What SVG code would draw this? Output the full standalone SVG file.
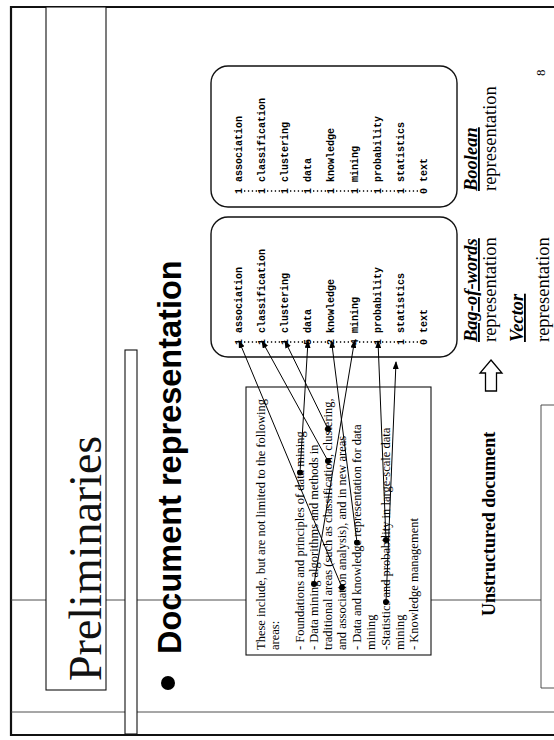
<svg xmlns="http://www.w3.org/2000/svg" width="554" height="740" viewBox="0 0 554 740">
  <style>
    .thin { fill: none; stroke: #3a3a3a; stroke-width: 0.9; }
    .box { fill: #fff; stroke: #111; stroke-width: 1.1; }
    .rbox { fill: #fff; stroke: #111; stroke-width: 1.4; }
    .title { font-family: "Liberation Serif", "Times New Roman", serif; font-size: 46px; fill: #111; }
    .head { font-family: "Liberation Sans", Arial, sans-serif; font-weight: bold; font-size: 32.5px; fill: #000; }
    .body { font-family: "Liberation Serif", "Times New Roman", serif; font-size: 12.5px; fill: #000; }
    .term { font-family: "Liberation Mono", "Courier New", monospace; font-weight: bold; font-size: 10px; fill: #000; }
    .lbl { font-family: "Liberation Serif", "Times New Roman", serif; font-size: 18.5px; fill: #000; }
    .em { font-weight: bold; font-style: italic; text-decoration: underline; }
    .sub { font-family: "Liberation Serif", "Times New Roman", serif; font-weight: bold; font-size: 18px; fill: #000; }
    .link { fill: none; stroke: #000; stroke-width: 1; marker-start: url(#dot); marker-end: url(#tip); }
    .lead { fill: none; stroke: #000; stroke-width: 1.3; stroke-dasharray: 1.3 2.6; }
  </style>
  <defs>
    <marker id="tip" viewBox="0 0 8 6" refX="7" refY="3" markerWidth="8" markerHeight="6" markerUnits="userSpaceOnUse" orient="auto">
      <path d="M0,0 L8,3 L0,6 Z" fill="#000"/>
    </marker>
    <marker id="dot" viewBox="-3 -3 6 6" refX="0" refY="0" markerWidth="6" markerHeight="6" markerUnits="userSpaceOnUse">
      <circle r="3" fill="#000"/>
    </marker>
  </defs>

  <rect width="554" height="740" fill="#fff"/>

  <!-- slide frame and layout guides (slide is turned a quarter turn) -->
  <g id="frame">
    <path d="M560,7 L11,7 L11,735 L560,735" fill="none" stroke="#111" stroke-width="2.2"/>
    <path class="thin" d="M11,600 H46 M106,600 H125 M137,600 H246 M431,600 H541"/>
    <path class="thin" d="M11,712 H125 M137,712 H554"/>
    <path class="thin" d="M560,405 H541 V688 H560"/>
  </g>

  <g id="title">
    <rect class="box" x="46" y="7" width="60" height="683"/>
    <text class="title" transform="translate(101,681) rotate(-90)">Preliminaries</text>
  </g>

  <rect id="bar" class="box" x="125" y="350" width="12" height="384"/>

  <g id="heading">
    <circle cx="168" cy="683" r="7" fill="#000"/>
    <text class="head" transform="translate(181,654) rotate(-90)">Document representation</text>
  </g>

  <!-- source document excerpt -->
  <g id="document">
    <rect class="box" x="246" y="387" width="185" height="268"/>
    <text class="body" transform="translate(264.5,650) rotate(-90)">These include, but are not limited to the following</text>
    <text class="body" transform="translate(278.5,650) rotate(-90)">areas:</text>
    <text class="body" transform="translate(303.5,650) rotate(-90)">- Foundations and principles of data mining</text>
    <text class="body" transform="translate(317.5,650) rotate(-90)">- Data mining algorithms and methods in</text>
    <text class="body" transform="translate(331.5,650) rotate(-90)">traditional areas (such as classification, clustering,</text>
    <text class="body" transform="translate(345.5,650) rotate(-90)">and association analysis), and in new areas</text>
    <text class="body" transform="translate(360.5,650) rotate(-90)">- Data and knowledge representation for data</text>
    <text class="body" transform="translate(374.5,650) rotate(-90)">mining</text>
    <text class="body" transform="translate(389.5,650) rotate(-90)">-Statistics and probability in large-scale data</text>
    <text class="body" transform="translate(403.5,650) rotate(-90)">mining</text>
    <text class="body" transform="translate(418,650) rotate(-90)">- Knowledge management</text>
    <text class="sub" transform="translate(495,616) rotate(-90)">Unstructured document</text>
  </g>

  <!-- term counts -->
  <g id="bag-of-words">
    <rect class="rbox" x="211" y="217" width="246" height="140" rx="17"/>
    <text class="term" transform="translate(242,345) rotate(-90)">1 association</text>
    <text class="term" transform="translate(265.1,345) rotate(-90)">1 classification</text>
    <text class="term" transform="translate(288.2,345) rotate(-90)">1 clustering</text>
    <text class="term" transform="translate(311.3,345) rotate(-90)">5 data</text>
    <text class="term" transform="translate(334.4,345) rotate(-90)">2 knowledge</text>
    <text class="term" transform="translate(357.5,345) rotate(-90)">4 mining</text>
    <text class="term" transform="translate(380.6,345) rotate(-90)">1 probability</text>
    <text class="term" transform="translate(403.7,345) rotate(-90)">1 statistics</text>
    <text class="term" transform="translate(426.8,345) rotate(-90)">0 text</text>
    <path class="lead" d="M244,342 H257 M267,342 H280 M290,342 H303 M313,342 H326 M336,342 H349 M359,342 H372 M382,342 H395 M405,342 H418"/>
    <text class="lbl em" transform="translate(477,342) rotate(-90)">Bag-of-words</text>
    <text class="lbl" transform="translate(496,342) rotate(-90)">representation</text>
    <text class="lbl em" transform="translate(523,342) rotate(-90)">Vector</text>
    <text class="lbl" transform="translate(549,342) rotate(-90)">representation</text>
  </g>

  <!-- term presence -->
  <g id="boolean">
    <rect class="rbox" x="211" y="66" width="246" height="141" rx="17"/>
    <text class="term" transform="translate(242,194) rotate(-90)">1 association</text>
    <text class="term" transform="translate(265.1,194) rotate(-90)">1 classification</text>
    <text class="term" transform="translate(288.2,194) rotate(-90)">1 clustering</text>
    <text class="term" transform="translate(311.3,194) rotate(-90)">1 data</text>
    <text class="term" transform="translate(334.4,194) rotate(-90)">1 knowledge</text>
    <text class="term" transform="translate(357.5,194) rotate(-90)">1 mining</text>
    <text class="term" transform="translate(380.6,194) rotate(-90)">1 probability</text>
    <text class="term" transform="translate(403.7,194) rotate(-90)">1 statistics</text>
    <text class="term" transform="translate(426.8,194) rotate(-90)">0 text</text>
    <path class="lead" d="M244,191 H257 M267,191 H280 M290,191 H303 M313,191 H326 M336,191 H349 M359,191 H372 M382,191 H395 M405,191 H418"/>
    <text class="lbl em" transform="translate(477,191) rotate(-90)">Boolean</text>
    <text class="lbl" transform="translate(496,191) rotate(-90)">representation</text>
  </g>

  <text id="page" class="lbl" style="font-size:13px" transform="translate(545,76) rotate(-90)">8</text>

  <!-- word occurrences linked to their counts -->
  <g id="connectors">
    <line class="link" x1="342" y1="587.5" x2="239" y2="341"/>
    <line class="link" x1="328" y1="461" x2="262" y2="341"/>
    <line class="link" x1="328" y1="429" x2="285" y2="341"/>
    <line class="link" x1="300" y1="472.5" x2="308" y2="341"/>
    <line class="link" x1="357" y1="542.5" x2="331.5" y2="341"/>
    <line class="link" x1="314" y1="584" x2="354.5" y2="341"/>
    <line class="link" x1="386" y1="540" x2="378" y2="341"/>
    <line class="link" x1="386" y1="602" x2="396" y2="362"/>
    <polygon points="491,360 502,373 496.5,373 496.5,391 485.5,391 485.5,373 480,373" fill="#fff" stroke="#000" stroke-width="1.3"/>
  </g>
</svg>
